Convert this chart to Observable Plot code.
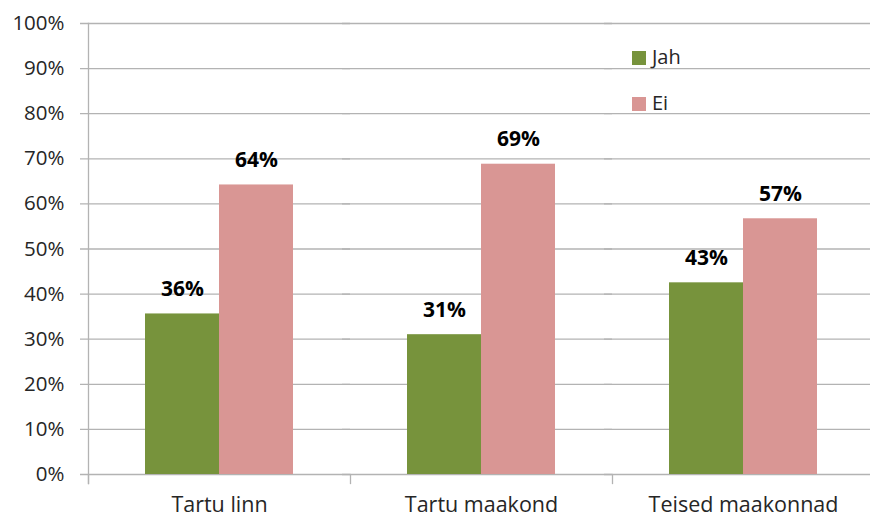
<!DOCTYPE html>
<html>
<head>
<meta charset="utf-8">
<script src="https://cdn.jsdelivr.net/npm/d3@7"></script>
<script src="https://cdn.jsdelivr.net/npm/@observablehq/plot@0.6"></script>
<style>
  html, body { margin: 0; padding: 0; background: #fff; }
  #wrap { position: relative; width: 870px; height: 517px; overflow: hidden; font-family: "Open Sans", sans-serif; }
  .sw { position: absolute; width: 14px; height: 14px; }
  .lt { position: absolute; font-size: 20px; line-height: 20px; color: #262626; white-space: nowrap; }
</style>
</head>
<body>
<div id="wrap"></div>
<script>
// ---- data ----
const categories = ["Tartu linn", "Tartu maakond", "Teised maakonnad"];
const series = ["Jah", "Ei"];
const jahValues = [35.6, 31.0, 42.5];
const eiValues = [64.2, 68.8, 56.7];
const jahLabels = ["36%", "31%", "43%"];
const eiLabels = ["64%", "69%", "57%"];
const seriesColors = ["#77933C", "#D99694"];
const yTicks = [0, 10, 20, 30, 40, 50, 60, 70, 80, 90, 100];
const yTickLabels = ["0%", "10%", "20%", "30%", "40%", "50%", "60%", "70%", "80%", "90%", "100%"];

const rows = categories.flatMap((c, i) => [
  {category: c, series: series[0], value: jahValues[i], label: jahLabels[i]},
  {category: c, series: series[1], value: eiValues[i], label: eiLabels[i]}
]);

const gridColor = "#b3b3b3";

const chart = Plot.plot({
  width: 870,
  height: 517,
  marginTop: 23,
  marginBottom: 43,
  marginLeft: 88,
  marginRight: -4,
  style: {fontFamily: "Open Sans, sans-serif", fontSize: "20px", color: "#262626", background: "transparent", overflow: "hidden"},
  fx: {domain: categories, padding: 0, label: null},
  x: {domain: series, paddingInner: 0, paddingOuter: 0.75, axis: null},
  y: {domain: [0, 100], label: null},
  color: {domain: series, range: seriesColors},
  marks: [
    Plot.gridY(yTicks, {stroke: gridColor, strokeOpacity: 1, strokeWidth: 1.3, insetLeft: -8}),
    Plot.axisY(yTicks, {tickSize: 0, tickPadding: 24, tickFormat: d => yTickLabels[yTicks.indexOf(d)], fontSize: 20.5, fill: "#262626"}),
    Plot.frame({anchor: "left", stroke: gridColor, strokeWidth: 1.3, insetTop: 451, insetBottom: -9}),
    Plot.frame({anchor: "left", stroke: gridColor, strokeWidth: 1.3, facet: "super", insetBottom: -9}),
    Plot.barY(rows, {fx: "category", x: "series", y: "value", fill: "series"}),
    Plot.text(rows, {fx: "category", x: "series", y: "value", text: "label", dy: -18, lineAnchor: "bottom", fontWeight: "bold", fill: "#000", fontSize: 21}),
    Plot.axisFx({anchor: "bottom", tickSize: 0, tickPadding: 22, fontSize: 21.5, label: null, fill: "#262626"})
  ]
});

const wrap = document.getElementById("wrap");
wrap.appendChild(chart);

// legend (inside plot area, top right)
series.forEach((s, i) => {
  const sw = document.createElement("div");
  sw.className = "sw";
  sw.style.background = seriesColors[i];
  sw.style.left = "632px";
  sw.style.top = (51 + i * 46) + "px";
  wrap.appendChild(sw);
  const t = document.createElement("div");
  t.className = "lt";
  t.textContent = s;
  t.style.left = "652px";
  t.style.top = (47 + i * 46) + "px";
  wrap.appendChild(t);
});
</script>
</body>
</html>
